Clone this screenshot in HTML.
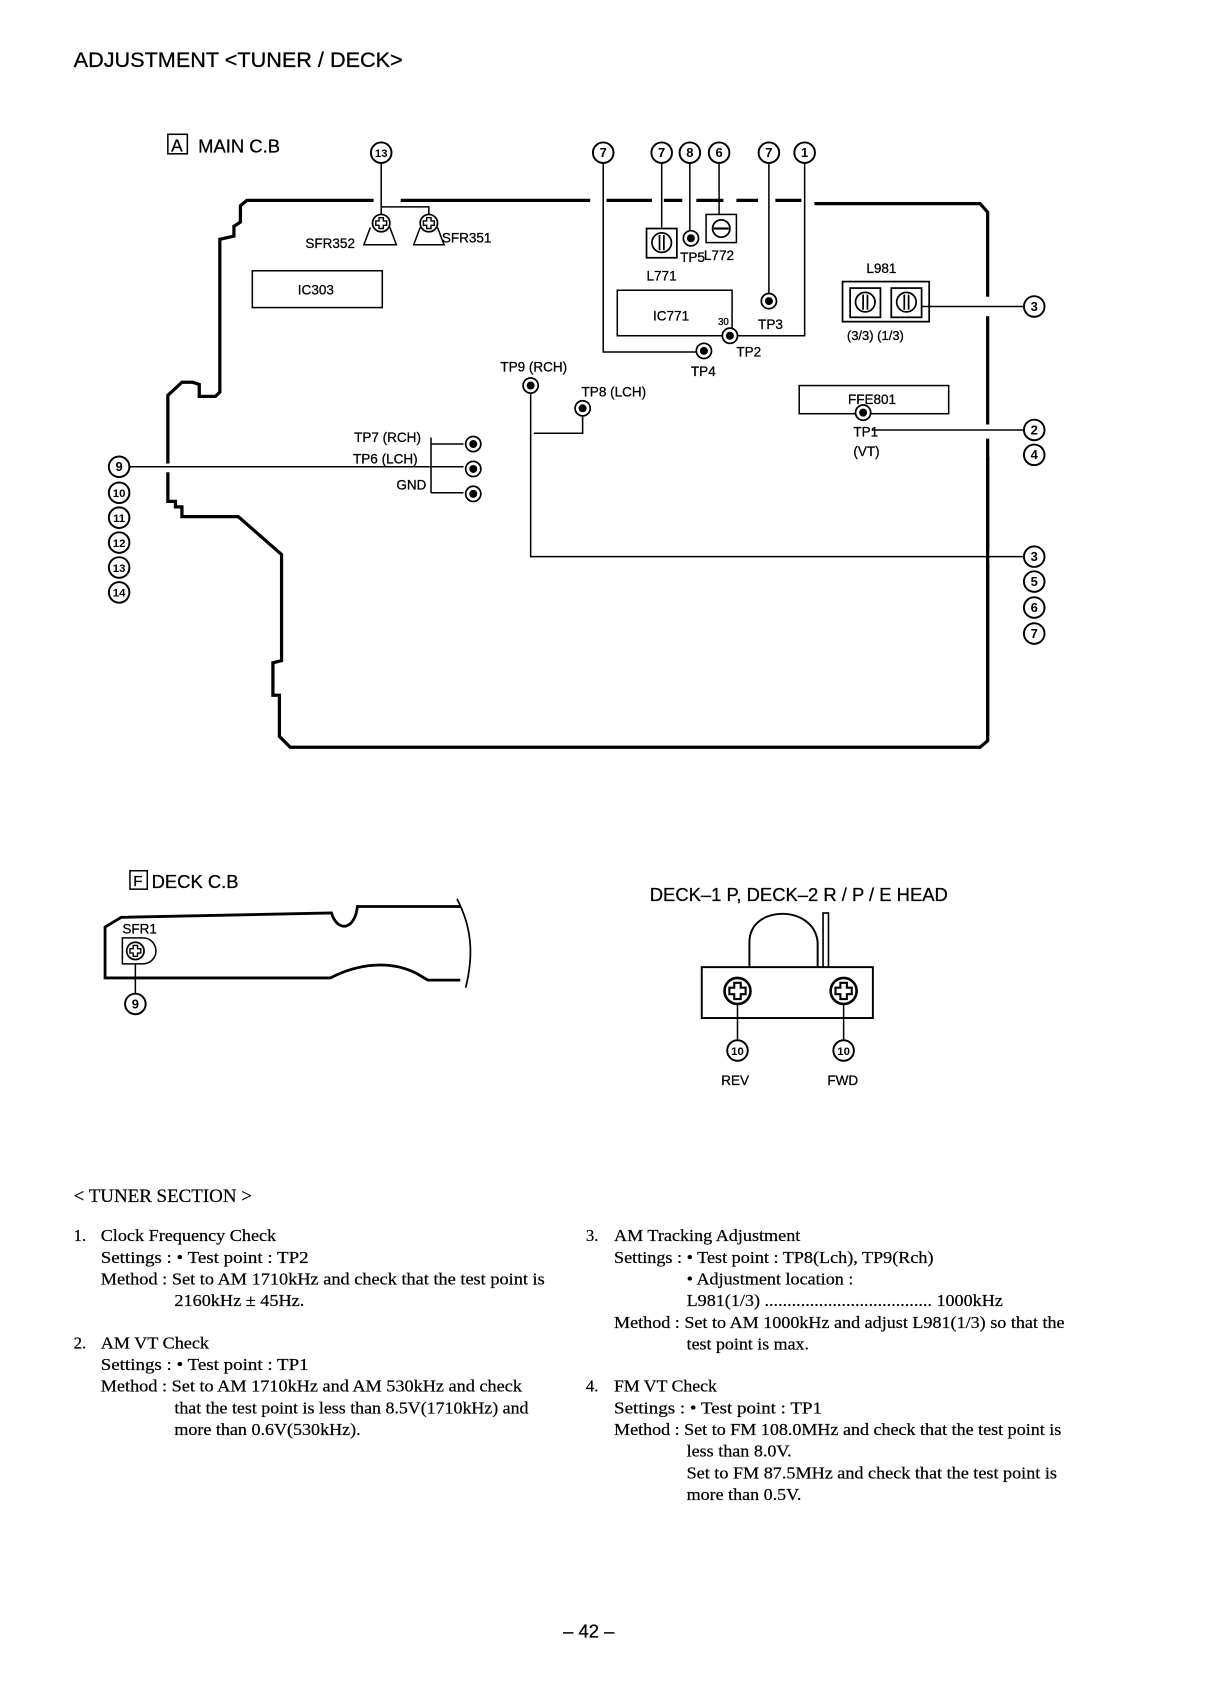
<!DOCTYPE html>
<html><head><meta charset="utf-8"><style>
html,body{margin:0;padding:0;background:#fff;}
svg{display:block;}
.s{font-family:"Liberation Sans",sans-serif;fill:#000;stroke:#000;stroke-width:0.25;}
.r{font-family:"Liberation Serif",serif;fill:#000;font-size:15.5px;stroke:#000;stroke-width:0.2;}
</style></head><body>
<svg width="1214" height="1696" viewBox="0 0 1121 1566" preserveAspectRatio="none" xmlns="http://www.w3.org/2000/svg">
<defs>
<g id="tp"><circle r="7" fill="#fff" stroke="#000" stroke-width="1.6"/><circle r="3.7" fill="#000"/></g>
<g id="vr"><rect x="-14" y="-13" width="28" height="27" fill="#fff" stroke="#000" stroke-width="1.6"/><circle r="9" fill="none" stroke="#000" stroke-width="1.6"/><line x1="-2" y1="-7" x2="-2" y2="7" stroke="#000" stroke-width="1.6"/><line x1="2" y1="-7" x2="2" y2="7" stroke="#000" stroke-width="1.6"/></g>
<g id="scr"><circle r="8" fill="#fff" stroke="#000" stroke-width="1.6"/><path d="M-2,-5h4v3h3v4h-3v3h-4v-3h-3v-4h3z" fill="#fff" stroke="#000" stroke-width="1.3"/></g>
</defs>
<g fill="none" stroke="#000">
<path d="M345,185 H228 L222,190 V205 L216,209 V218 L203,221 V362 L199,366 H184 V355 L178,353 H168 L155,365 V428" stroke-width="3"/>
<path d="M155,436 V463 H162 V468 H168 V477 H220 L260,512 V610 L252,612 V642 H258 V680 L268,690 H905 L912,684 V405" stroke-width="3"/>
<path d="M912,392 V292" stroke-width="3"/>
<path d="M912,274 V196 L905,188 H752" stroke-width="3"/>
<path d="M912,422 V508" stroke-width="3"/><path d="M912,520 V680" stroke-width="3"/>
<path d="M370,185 H545" stroke-width="3"/>
<path d="M560,185 H602 M613,185 H630 M643,185 H668 M680,185 H700 M716,185 H740" stroke-width="3"/>
<path d="M352,150 V191 M352,191 H396 V198 M352,191 V198" stroke-width="1.4"/>
<path d="M342,210 L336,226 H366 L360,210 M388,210 L382,226 H410 L404,210" stroke-width="1.4"/>
<rect x="233" y="250" width="120" height="34" stroke-width="1.4"/>
<path d="M557,150 V325 H643" stroke-width="1.4"/>
<path d="M611,150 V210 M637,150 V213 M664,150 V198 M710,150 V271 M743,150 V310 H681" stroke-width="1.4"/>
<rect x="570" y="268" width="106" height="42" stroke-width="1.4"/>
<rect x="652" y="198" width="28" height="26" stroke-width="1.4"/>
<circle cx="666" cy="211" r="8" stroke-width="1.6"/><line x1="659" y1="211" x2="673" y2="211" stroke-width="2"/>
<rect x="778" y="260" width="80" height="37" stroke-width="1.6"/>
<path d="M848,283 H946" stroke-width="1.4"/>
<rect x="738" y="356" width="138" height="26" stroke-width="1.4"/>
<path d="M805,397 H946" stroke-width="1.4"/>
<path d="M490,363 V514 H946" stroke-width="1.4"/>
<path d="M538,384 V400 H493" stroke-width="1.4"/>
<path d="M119,431 H428 M398,410 H428 M398,455 H428 M398,404 V455" stroke-width="1.4"/>
</g>
<use href="#scr" x="352" y="206"/><use href="#scr" x="396" y="206"/>
<use href="#vr" x="611" y="224"/><use href="#tp" x="638" y="220"/>
<use href="#tp" x="710" y="278"/><use href="#tp" x="674" y="310"/><use href="#tp" x="650" y="324"/>
<use href="#vr" x="799" y="279"/><use href="#vr" x="837" y="279"/>
<use href="#tp" x="797" y="381"/><use href="#tp" x="490" y="356"/><use href="#tp" x="538" y="377"/>
<use href="#tp" x="437" y="410"/><use href="#tp" x="437" y="433"/><use href="#tp" x="437" y="456"/>
<g font-family="Liberation Sans,sans-serif" font-weight="bold" font-size="12" text-anchor="middle">
<g fill="#fff" stroke="#000" stroke-width="1.8">
<circle cx="352" cy="141" r="9.5"/><circle cx="557" cy="141" r="9.5"/><circle cx="611" cy="141" r="9.5"/><circle cx="637" cy="141" r="9.5"/><circle cx="664" cy="141" r="9.5"/><circle cx="710" cy="141" r="9.5"/><circle cx="743" cy="141" r="9.5"/>
<circle cx="955" cy="283" r="9.5"/><circle cx="955" cy="397" r="9.5"/><circle cx="955" cy="420" r="9.5"/>
<circle cx="955" cy="514" r="9.5"/><circle cx="955" cy="537" r="9.5"/><circle cx="955" cy="561" r="9.5"/><circle cx="955" cy="585" r="9.5"/>
<circle cx="110" cy="431" r="9.5"/><circle cx="110" cy="455" r="9.5"/><circle cx="110" cy="478" r="9.5"/><circle cx="110" cy="501" r="9.5"/><circle cx="110" cy="524" r="9.5"/><circle cx="110" cy="547" r="9.5"/>
<circle cx="125" cy="927" r="9.5"/><circle cx="681" cy="970" r="9.5"/><circle cx="779" cy="970" r="9.5"/>
</g>
<text x="352" y="145" font-size="10.5">13</text><text x="557" y="145">7</text><text x="611" y="145">7</text><text x="637" y="145">8</text><text x="664" y="145">6</text><text x="710" y="145">7</text><text x="743" y="145">1</text>
<text x="955" y="287">3</text><text x="955" y="401">2</text><text x="955" y="424">4</text>
<text x="955" y="518">3</text><text x="955" y="541">5</text><text x="955" y="565">6</text><text x="955" y="589">7</text>
<text x="110" y="435">9</text><text x="110" y="459" font-size="10.5">10</text><text x="110" y="482" font-size="10.5">11</text><text x="110" y="505" font-size="10.5">12</text><text x="110" y="528" font-size="10.5">13</text><text x="110" y="551" font-size="10.5">14</text>
<text x="125" y="931">9</text><text x="681" y="974" font-size="10.5">10</text><text x="779" y="974" font-size="10.5">10</text>
</g>
<g class="s">
<text x="68" y="62" font-size="20">ADJUSTMENT &lt;TUNER / DECK&gt;</text>
<rect x="155" y="124" width="18" height="18" fill="none" stroke="#000" stroke-width="1.4"/>
<text x="158" y="140" font-size="16">A</text>
<text x="183" y="141" font-size="17">MAIN  C.B</text>
<text x="282" y="229" font-size="12.5">SFR352</text><text x="408" y="224" font-size="12.5">SFR351</text>
<text x="275" y="272" font-size="12.5">IC303</text>
<text x="628" y="242" font-size="12.5">TP5</text><text x="650" y="240" font-size="12.5">L772</text>
<text x="597" y="259" font-size="12.5">L771</text>
<text x="603" y="296" font-size="12.5">IC771</text><text x="663" y="300" font-size="9">30</text>
<text x="700" y="304" font-size="12.5">TP3</text><text x="680" y="329" font-size="12.5">TP2</text><text x="638" y="347" font-size="12.5">TP4</text>
<text x="800" y="252" font-size="12.5">L981</text>
<text x="782" y="314" font-size="12">(3/3)   (1/3)</text>
<text x="783" y="373" font-size="12.5">FFE801</text>
<text x="788" y="403" font-size="12.5">TP1</text><text x="788" y="421" font-size="12.5">(VT)</text>
<text x="462" y="343" font-size="12.5">TP9 (RCH)</text><text x="537" y="366" font-size="12.5">TP8 (LCH)</text>
<text x="327" y="408" font-size="12.5">TP7 (RCH)</text><text x="326" y="428" font-size="12.5">TP6 (LCH)</text><text x="366" y="452" font-size="12.5">GND</text>
<rect x="120" y="804" width="16" height="17" fill="none" stroke="#000" stroke-width="1.4"/>
<text x="123" y="818" font-size="14">F</text>
<text x="140" y="820" font-size="17">DECK  C.B</text>
<text x="113" y="862" font-size="12.5">SFR1</text>
<text x="600" y="832" font-size="17">DECK–1 P, DECK–2 R / P / E HEAD</text>
<text x="666" y="1002" font-size="12.5">REV</text><text x="764" y="1002" font-size="12.5">FWD</text>
<text x="520" y="1512" font-size="17">– 42 –</text>
</g>
<g fill="none" stroke="#000">
<path d="M425,837 H330 C328,858 312,862 306,843 L112,847 L97,856 V903 H305 C330,890 360,886 385,899 L395,905 H425" stroke-width="2.6"/>
<path d="M422,830 C435,855 438,880 430,912" stroke-width="1.6"/>
<path d="M113,866 H132 A12 12 0 0 1 132,890 H113 Z" stroke-width="1.4"/>
<path d="M125,890 V918" stroke-width="1.4"/>
<path d="M692,893 V870 C692,835 752,835 755,870 V893" stroke-width="1.8"/>
<rect x="760" y="843" width="5" height="50" stroke-width="1.5"/>
<rect x="648" y="893" width="158" height="47" stroke-width="1.8"/>
<path d="M681,927 V961 M779,927 V961" stroke-width="1.4"/>
</g>
<use href="#scr" x="125" y="878"/>
<g transform="translate(681,915) scale(1.5)"><use href="#scr"/></g>
<g transform="translate(779,915) scale(1.5)"><use href="#scr"/></g>
<g class="r">
<text x="68" y="1110" font-size="17.5">&lt; TUNER  SECTION &gt;</text>
<text x="68" y="1146">1.</text><text x="93" y="1146" textLength="162" lengthAdjust="spacingAndGlyphs">Clock Frequency Check</text>
<text x="93" y="1166" textLength="192" lengthAdjust="spacingAndGlyphs">Settings : • Test point : TP2</text>
<text x="93" y="1186" textLength="410" lengthAdjust="spacingAndGlyphs">Method :  Set  to AM 1710kHz and check that the test point is</text>
<text x="161" y="1206" textLength="120" lengthAdjust="spacingAndGlyphs">2160kHz ± 45Hz.</text>
<text x="68" y="1245">2.</text><text x="93" y="1245" textLength="100" lengthAdjust="spacingAndGlyphs">AM VT Check</text>
<text x="93" y="1265" textLength="192" lengthAdjust="spacingAndGlyphs">Settings : • Test point : TP1</text>
<text x="93" y="1285" textLength="389" lengthAdjust="spacingAndGlyphs">Method :  Set to AM 1710kHz and AM 530kHz and check</text>
<text x="161" y="1305" textLength="327" lengthAdjust="spacingAndGlyphs">that the test point is less than 8.5V(1710kHz) and</text>
<text x="161" y="1325" textLength="172" lengthAdjust="spacingAndGlyphs">more than 0.6V(530kHz).</text>
<text x="541" y="1146">3.</text><text x="567" y="1146" textLength="172" lengthAdjust="spacingAndGlyphs">AM Tracking Adjustment</text>
<text x="567" y="1166" textLength="295" lengthAdjust="spacingAndGlyphs">Settings : • Test point : TP8(Lch), TP9(Rch)</text>
<text x="634" y="1186" textLength="154" lengthAdjust="spacingAndGlyphs">• Adjustment location :</text>
<text x="634" y="1206" textLength="292" lengthAdjust="spacingAndGlyphs">L981(1/3) ..................................... 1000kHz</text>
<text x="567" y="1226" textLength="416" lengthAdjust="spacingAndGlyphs">Method :  Set to AM 1000kHz and adjust L981(1/3) so that the</text>
<text x="634" y="1246" textLength="113" lengthAdjust="spacingAndGlyphs">test point is max.</text>
<text x="541" y="1285">4.</text><text x="567" y="1285" textLength="95" lengthAdjust="spacingAndGlyphs">FM VT Check</text>
<text x="567" y="1305" textLength="192" lengthAdjust="spacingAndGlyphs">Settings : • Test point : TP1</text>
<text x="567" y="1325" textLength="413" lengthAdjust="spacingAndGlyphs">Method :  Set to FM 108.0MHz and check that the test point is</text>
<text x="634" y="1345" textLength="97" lengthAdjust="spacingAndGlyphs">less than 8.0V.</text>
<text x="634" y="1365" textLength="342" lengthAdjust="spacingAndGlyphs">Set to FM 87.5MHz and  check that the test point is</text>
<text x="634" y="1385" textLength="106" lengthAdjust="spacingAndGlyphs">more than 0.5V.</text>
</g>
</svg>
</body></html>
